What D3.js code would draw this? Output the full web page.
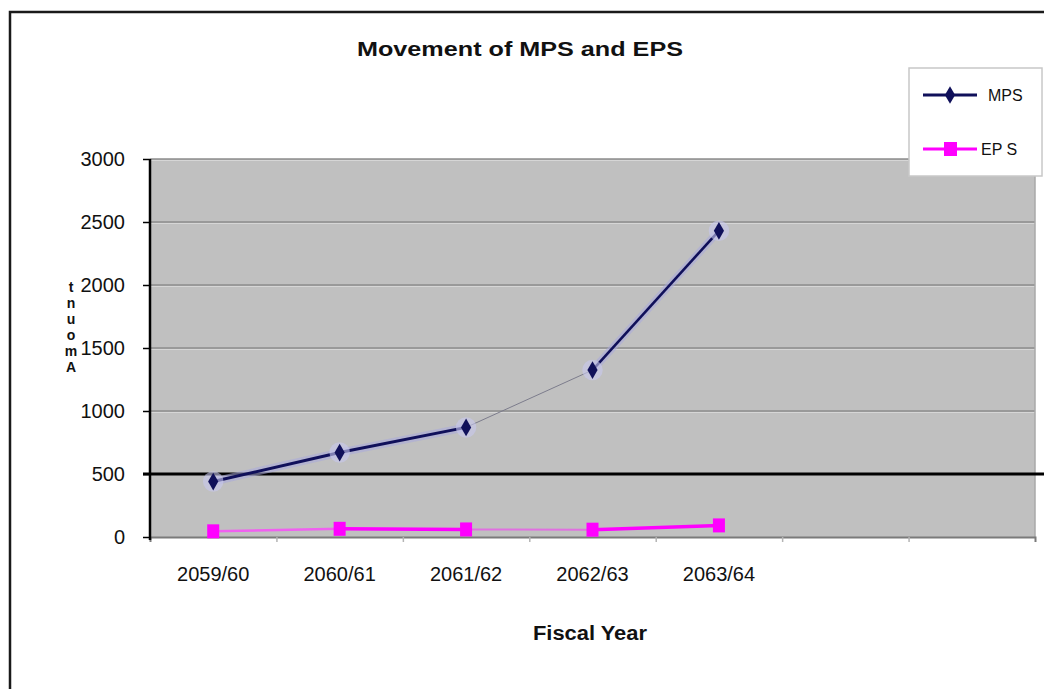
<!DOCTYPE html>
<html>
<head>
<meta charset="utf-8">
<script src="https://cdn.jsdelivr.net/npm/d3@7/dist/d3.min.js"></script>
<style>
  html, body { margin: 0; padding: 0; background: #ffffff; }
  svg { display: block; }
  text { font-family: Arial, "Liberation Sans", sans-serif; fill: #111; }
</style>
</head>
<body>
<svg id="chart" width="1044" height="689"></svg>
<script>
// Fiscal years on the category axis
const categories = ["2059/60", "2060/61", "2061/62", "2062/63", "2063/64"];
// Market price per share and earnings per share
const mpsValues = [440, 670, 870, 1325, 2430];
const epsValues = [45, 65, 60, 58, 92];
// Value axis ticks
const yTicks = [0, 500, 1000, 1500, 2000, 2500, 3000];
const seriesNames = ["MPS", "EPS"];

// Layout
const W = 1044, H = 689;
const plot = { left: 150, right: 1035, top: 159, bottom: 537 };
const slotCount = 7;          // the category axis reserves seven slots
const navy = "#10105a";
const magenta = "#ff00ff";

const svg = d3.select("#chart");

// outer frame
svg.append("rect")
  .attr("x", 10).attr("y", 12)
  .attr("width", W + 20).attr("height", H + 20)
  .attr("fill", "#ffffff")
  .attr("stroke", "#1a1a1a").attr("stroke-width", 2.5);

const x = d3.scaleBand()
  .domain(d3.range(slotCount))
  .range([plot.left, plot.right]);

const y = d3.scaleLinear()
  .domain([0, 3000])
  .range([plot.bottom, plot.top]);

const cx = i => x(i) + x.bandwidth() / 2;

// plot background
svg.append("rect")
  .attr("x", plot.left).attr("y", plot.top)
  .attr("width", plot.right - plot.left).attr("height", plot.bottom - plot.top)
  .attr("fill", "#c0c0c0");

// horizontal gridlines
const grid = svg.append("g");
yTicks.filter(v => v > 0 && v !== 500).forEach(v => {
  grid.append("line")
    .attr("x1", plot.left).attr("x2", plot.right)
    .attr("y1", y(v) + 1.5).attr("y2", y(v) + 1.5)
    .attr("stroke", "#d6d6d6").attr("stroke-width", 1);
  grid.append("line")
    .attr("x1", plot.left).attr("x2", plot.right)
    .attr("y1", y(v)).attr("y2", y(v))
    .attr("stroke", "#8c8c8c").attr("stroke-width", 1.5);
});
// right edge of plot area
grid.append("line")
  .attr("x1", plot.right).attr("x2", plot.right)
  .attr("y1", plot.top).attr("y2", plot.bottom)
  .attr("stroke", "#a8a8a8").attr("stroke-width", 1.5);

// heavy line at 500
svg.append("line")
  .attr("x1", plot.left - 7).attr("x2", W)
  .attr("y1", y(500)).attr("y2", y(500))
  .attr("stroke", "#000").attr("stroke-width", 3);

// category axis (bottom)
const xAxis = d3.axisBottom(d3.scaleLinear().domain([0, slotCount]).range([plot.left, plot.right]))
  .tickValues(d3.range(1, slotCount))
  .tickSize(5)
  .tickFormat("");
const gx = svg.append("g")
  .attr("transform", `translate(0,${plot.bottom})`)
  .call(xAxis);
gx.select(".domain").attr("stroke", "#7a7a7a").attr("stroke-width", 2);
gx.selectAll(".tick line").attr("stroke", "#b4b4b4").attr("stroke-width", 1.5);

categories.forEach((c, i) => {
  svg.append("text")
    .attr("x", cx(i)).attr("y", 581)
    .attr("text-anchor", "middle")
    .attr("font-size", 20)
    .text(c);
});

// value axis (left)
const yAxis = d3.axisLeft(y).tickValues(yTicks).tickFormat(d3.format("d"))
  .tickSize(7).tickPadding(18);
const gy = svg.append("g")
  .attr("transform", `translate(${plot.left},0)`)
  .call(yAxis);
gy.select(".domain").attr("stroke", "#000").attr("stroke-width", 2.5)
  .attr("d", `M0,${plot.top}V${plot.bottom + 3}`);
gy.selectAll(".tick line").attr("stroke", "#000").attr("stroke-width", 1.5);
gy.selectAll(".tick text")
  .attr("font-size", 20)
  .attr("fill", "#111")
  .attr("font-family", "Arial, 'Liberation Sans', sans-serif");

// series lines, drawn segment by segment
const mpsStyle = [
  { w: 3, c: navy, halo: true },
  { w: 3, c: navy, halo: true },
  { w: 1, c: "#7c7c8c", halo: false },
  { w: 2.6, c: navy, halo: true }
];
const epsStyle = [
  { w: 2.5, c: "#f060f0" },
  { w: 3.5, c: magenta },
  { w: 2, c: "#e070e0" },
  { w: 3.5, c: magenta }
];

function drawSegments(values, styles, group) {
  d3.pairs(values.map((v, i) => [cx(i), y(v)])).forEach((pair, k) => {
    const s = styles[k];
    if (s.halo) {
      group.append("line")
        .attr("x1", pair[0][0]).attr("y1", pair[0][1])
        .attr("x2", pair[1][0]).attr("y2", pair[1][1])
        .attr("stroke", "#a8a8dc").attr("stroke-opacity", 0.55)
        .attr("stroke-width", s.w + 5).attr("stroke-linecap", "round");
    }
    group.append("line")
      .attr("x1", pair[0][0]).attr("y1", pair[0][1])
      .attr("x2", pair[1][0]).attr("y2", pair[1][1])
      .attr("stroke", s.c).attr("stroke-width", s.w);
  });
}

const gEps = svg.append("g");
drawSegments(epsValues, epsStyle, gEps);
gEps.selectAll("rect.pt")
  .data(epsValues)
  .join("rect")
  .attr("class", "pt")
  .attr("x", (d, i) => cx(i) - 6)
  .attr("y", d => y(d) - 7)
  .attr("width", 12).attr("height", 14)
  .attr("fill", magenta);

const gMps = svg.append("g");
drawSegments(mpsValues, mpsStyle, gMps);
const diamond = d3.symbol().type(d3.symbolDiamond).size(90);
gMps.selectAll("path.halo")
  .data(mpsValues)
  .join("path")
  .attr("class", "halo")
  .attr("transform", (d, i) => `translate(${cx(i)},${y(d)})`)
  .attr("d", d3.symbol().type(d3.symbolCircle).size(330))
  .attr("fill", "#c8c8ee").attr("fill-opacity", 0.6);
gMps.selectAll("path.pt")
  .data(mpsValues)
  .join("path")
  .attr("class", "pt")
  .attr("transform", (d, i) => `translate(${cx(i)},${y(d)})`)
  .attr("d", diamond)
  .attr("fill", navy);

// title
svg.append("text")
  .attr("x", 520).attr("y", 56)
  .attr("text-anchor", "middle")
  .attr("font-size", 20).attr("font-weight", "bold")
  .attr("textLength", 326).attr("lengthAdjust", "spacingAndGlyphs")
  .text("Movement of MPS and EPS");

// axis titles
svg.append("text")
  .attr("x", 590).attr("y", 640)
  .attr("text-anchor", "middle")
  .attr("font-size", 20).attr("font-weight", "bold")
  .attr("textLength", 114).attr("lengthAdjust", "spacingAndGlyphs")
  .text("Fiscal Year");

// value-axis title, letters stacked upright from the bottom
const yTitle = "Amount";
const yTitleText = svg.append("text")
  .attr("font-size", 14).attr("font-weight", "bold")
  .attr("text-anchor", "middle");
yTitle.split("").forEach((ch, i) => {
  yTitleText.append("tspan")
    .attr("x", 71)
    .attr("y", 372 - i * 16)
    .text(ch);
});

// legend
const lg = svg.append("g");
lg.append("rect")
  .attr("x", 909).attr("y", 68)
  .attr("width", 133).attr("height", 108)
  .attr("fill", "#ffffff")
  .attr("stroke", "#c8c8c8").attr("stroke-width", 1.5);
const legendRows = [95, 149];
seriesNames.forEach((name, i) => {
  const ly = legendRows[i];
  lg.append("line")
    .attr("x1", 923).attr("x2", 977)
    .attr("y1", ly).attr("y2", ly)
    .attr("stroke", i === 0 ? navy : magenta)
    .attr("stroke-width", 3);
  if (i === 0) {
    lg.append("path")
      .attr("transform", `translate(950,${ly})`)
      .attr("d", diamond)
      .attr("fill", navy);
  } else {
    lg.append("rect")
      .attr("x", 944).attr("y", ly - 7)
      .attr("width", 13).attr("height", 14)
      .attr("fill", magenta);
  }
  lg.append("text")
    .attr("x", i === 0 ? 988 : 981).attr("y", ly + 6)
    .attr("font-size", 16)
    .text(name === "EPS" ? "EP S" : name);
});
</script>
</body>
</html>
